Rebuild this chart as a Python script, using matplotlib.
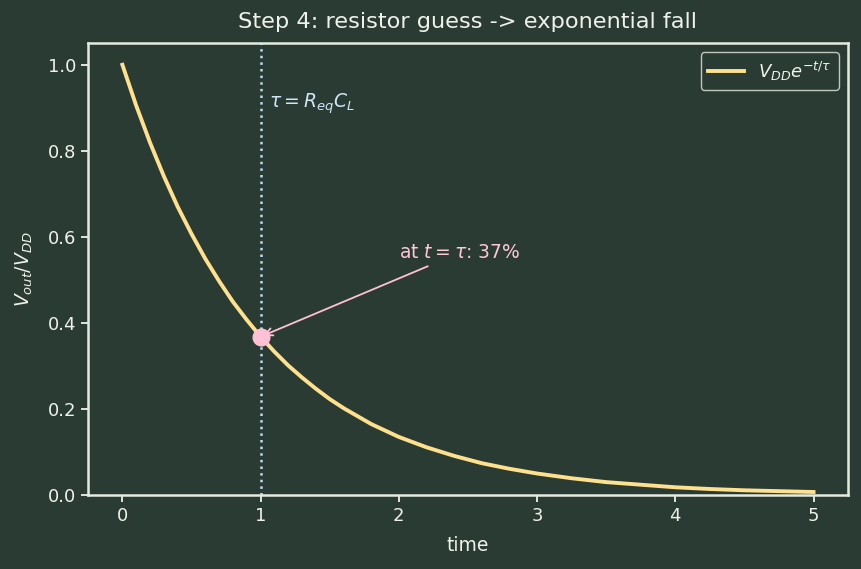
import matplotlib
matplotlib.use("Agg")
import matplotlib.pyplot as plt

# values (t in units of tau)
t_vals = [0.0, 0.1, 0.2, 0.3, 0.4, 0.5, 0.6, 0.7, 0.8, 0.9, 1.0, 1.1, 1.2,
          1.3, 1.4, 1.5, 1.6, 1.8, 2.0, 2.2, 2.4, 2.6, 2.8, 3.0, 3.25, 3.5,
          3.75, 4.0, 4.25, 4.5, 4.75, 5.0]
v_vals = [1.0, 0.905, 0.819, 0.741, 0.670, 0.607, 0.549, 0.497, 0.449,
          0.407, 0.368, 0.333, 0.301, 0.273, 0.247, 0.223, 0.202, 0.165,
          0.135, 0.111, 0.091, 0.074, 0.061, 0.050, 0.039, 0.030, 0.024,
          0.018, 0.014, 0.011, 0.009, 0.007]
tau = 1.0
v_tau = 0.368

bg = "#2a3b33"
fg = "#eef2ea"

fig, ax = plt.subplots(figsize=(8.61, 5.69), dpi=100)
fig.patch.set_facecolor(bg)
ax.set_facecolor(bg)

ax.plot(t_vals, v_vals, color="#ffe08c", lw=2.8, label=r"$V_{DD}e^{-t/\tau}$")
ax.axvline(tau, color="#bcdcf0", ls=":", lw=1.8)
ax.text(tau + 0.06, 0.91, r"$\tau = R_{eq}C_L$", color="#cfe6f7", fontsize=13.5,
        va="center")
ax.plot([tau], [v_tau], "o", color="#ffc1d3", ms=12, zorder=5)
ax.annotate(r"at $t=\tau$: 37%", xy=(tau, v_tau), xytext=(2.0, 0.55),
            color="#ffc8d6", fontsize=13.5,
            arrowprops=dict(arrowstyle="->", color="#ffc1d3", lw=1.3))

ax.set_xlim(-0.25, 5.25)
ax.set_ylim(0, 1.05)
ax.set_xlabel("time", color=fg, fontsize=13.5, labelpad=8)
ax.set_ylabel(r"$V_{out}/V_{DD}$", color=fg, fontsize=13.5, labelpad=9)
ax.set_title("Step 4: resistor guess -> exponential fall", color=fg, fontsize=16.2,
             pad=11)
ax.tick_params(colors=fg, labelsize=13, length=5, width=1.3)
for s in ax.spines.values():
    s.set_color("#e4ebe0")
    s.set_linewidth(1.8)

leg = ax.legend(loc="upper right", fontsize=13, facecolor=bg, edgecolor="#e4ebe0",
                handlelength=2.0)
for txt in leg.get_texts():
    txt.set_color(fg)

fig.subplots_adjust(left=0.102, right=0.985, top=0.924, bottom=0.13)
fig.savefig("out.png", facecolor=bg)
